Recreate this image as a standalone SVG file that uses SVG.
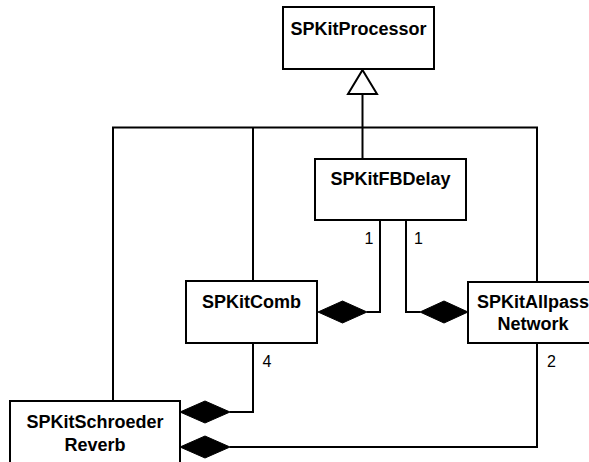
<svg xmlns="http://www.w3.org/2000/svg" width="589" height="462" viewBox="0 0 589 462">
  <style>
    .box { fill: #ffffff; stroke: #000000; stroke-width: 2; }
    .name { font-family: "Liberation Sans", Arial, sans-serif; font-size: 18px; font-weight: bold; fill: #000000; text-anchor: middle; }
    .mult { font-family: "Liberation Sans", Arial, sans-serif; font-size: 16px; fill: #000000; text-anchor: middle; }
    .wire { fill: none; stroke: #000000; stroke-width: 2; }
    .diamond { fill: #000000; stroke: #000000; stroke-width: 1; }
    .hollow { fill: #ffffff; stroke: #000000; stroke-width: 2; }
  </style>
  <rect width="589" height="462" fill="#ffffff"/>

  <!-- connectors -->
  <g id="connectors">
    <!-- generalization tree to SPKitProcessor -->
    <path class="wire" d="M362.5,94 V159"/>
    <path class="wire" d="M113,401 V127.5 H537 V282"/>
    <path class="wire" d="M253,127.5 V281"/>
    <polygon class="hollow" points="362.5,70 377,94 348,94"/>

    <!-- FBDelay composed into Comb -->
    <path class="wire" d="M380,220 V312 H367"/>
    <polygon class="diamond" points="318,312 342.5,301 367,312 342.5,323"/>
    <text class="mult" x="369" y="244">1</text>

    <!-- FBDelay composed into AllpassNetwork -->
    <path class="wire" d="M406,220 V312 H420"/>
    <polygon class="diamond" points="420,312 444,301 468,312 444,323"/>
    <text class="mult" x="418.5" y="244">1</text>

    <!-- Comb composed into SchroederReverb -->
    <path class="wire" d="M253,343 V412 H230"/>
    <polygon class="diamond" points="180,412 205,401 230,412 205,423"/>
    <text class="mult" x="267" y="367">4</text>

    <!-- AllpassNetwork composed into SchroederReverb -->
    <path class="wire" d="M537,343 V447 H230"/>
    <polygon class="diamond" points="180,447 205,436 230,447 205,458"/>
    <text class="mult" x="551.5" y="367">2</text>
  </g>

  <g id="SPKitProcessor">
    <rect class="box" x="283" y="7" width="151" height="62"/>
    <text class="name" x="358.5" y="35">SPKitProcessor</text>
  </g>

  <g id="SPKitFBDelay">
    <rect class="box" x="315" y="159" width="151" height="61"/>
    <text class="name" x="390.5" y="185">SPKitFBDelay</text>
  </g>

  <g id="SPKitComb">
    <rect class="box" x="186" y="281" width="131" height="62"/>
    <text class="name" x="251.5" y="308">SPKitComb</text>
  </g>

  <g id="SPKitAllpassNetwork">
    <rect class="box" x="468" y="282" width="130" height="61"/>
    <text class="name" x="533" y="308">SPKitAllpass</text>
    <text class="name" x="533" y="330">Network</text>
  </g>

  <g id="SPKitSchroederReverb">
    <rect class="box" x="10" y="401" width="170" height="70"/>
    <text class="name" x="95" y="428">SPKitSchroeder</text>
    <text class="name" x="95" y="451">Reverb</text>
  </g>
</svg>
